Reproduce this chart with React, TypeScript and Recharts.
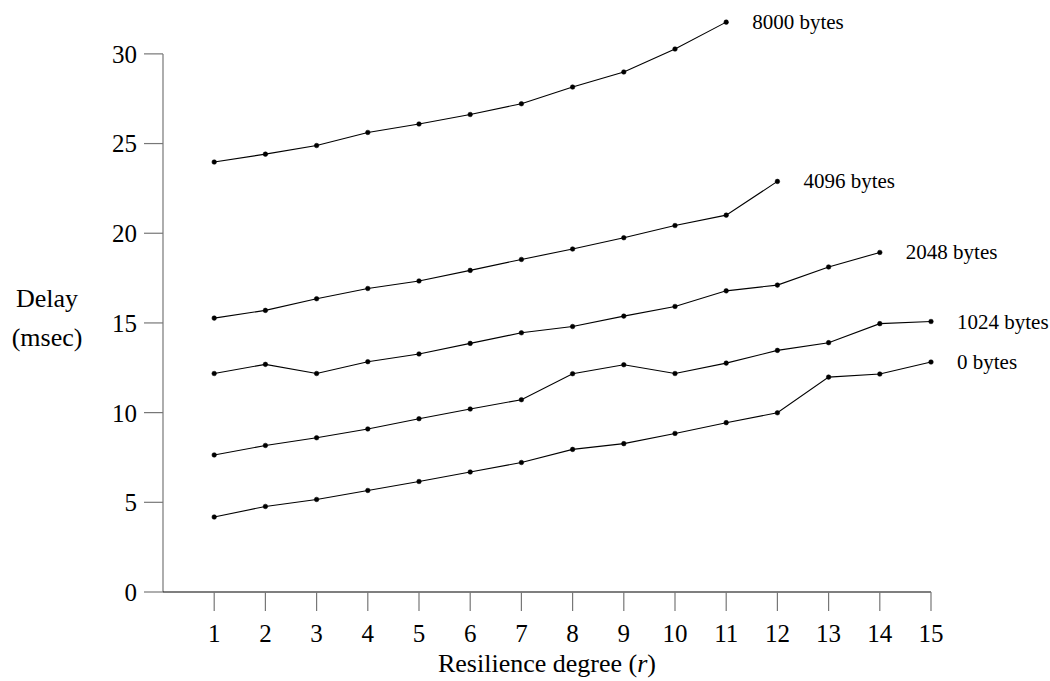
import React from 'react';
import { LineChart, Line, XAxis, YAxis, ReferenceLine, LabelList } from 'recharts';

const resilience = [1, 2, 3, 4, 5, 6, 7, 8, 9, 10, 11, 12, 13, 14, 15];
const bytes0 = [4.18, 4.77, 5.16, 5.66, 6.16, 6.69, 7.22, 7.95, 8.27, 8.84, 9.44, 9.99, 11.98, 12.15, 12.82];
const bytes1024 = [7.64, 8.17, 8.6, 9.09, 9.66, 10.2, 10.72, 12.17, 12.67, 12.18, 12.76, 13.47, 13.9, 14.96, 15.08];
const bytes2048 = [12.18, 12.69, 12.18, 12.84, 13.27, 13.86, 14.45, 14.8, 15.38, 15.92, 16.79, 17.11, 18.12, 18.93];
const bytes4096 = [15.27, 15.7, 16.35, 16.92, 17.34, 17.93, 18.54, 19.12, 19.75, 20.43, 21.01, 22.89];
const bytes8000 = [23.97, 24.41, 24.89, 25.62, 26.09, 26.62, 27.22, 28.15, 28.99, 30.27, 31.77];
const yTicks = [0, 5, 10, 15, 20, 25, 30];

const series = [
  { key: 'b0', name: '0 bytes', values: bytes0 },
  { key: 'b1024', name: '1024 bytes', values: bytes1024 },
  { key: 'b2048', name: '2048 bytes', values: bytes2048 },
  { key: 'b4096', name: '4096 bytes', values: bytes4096 },
  { key: 'b8000', name: '8000 bytes', values: bytes8000 },
];

const data = resilience.map((r, i) => {
  const row: any = { r };
  series.forEach(s => {
    row[s.key] = i < s.values.length ? s.values[i] : null;
  });
  return row;
});

const font = '"Liberation Serif", "Times New Roman", serif';

// name shown only next to the last point of each curve
const endLabel = (name: string, last: number) => (props: any) => {
  const { x, y, index } = props;
  if (index !== last || x == null || y == null) return null;
  return (
    <text x={x + 26} y={y} dominantBaseline="central" textAnchor="start"
      fontFamily={font} fontSize={21} fill="#000">
      {name}
    </text>
  );
};

const XTitle = ({ viewBox }: any) => (
  <text x={viewBox.x + viewBox.width / 2} y={672} textAnchor="middle"
    fontFamily={font} fontSize={26} fill="#000">
    Resilience degree (<tspan fontStyle="italic">r</tspan>)
  </text>
);

const YTitle = () => (
  <g>
    <text x={47} y={307} textAnchor="middle" fontFamily={font} fontSize={26} fill="#000">Delay</text>
    <text x={47} y={346} textAnchor="middle" fontFamily={font} fontSize={26} fill="#000">(msec)</text>
  </g>
);

export default function App() {
  const tickStyle = { fontFamily: font, fontSize: 25, fill: '#000' };
  return (
    <div style={{ position: 'absolute', left: 0, top: 0, background: '#fff' }}>
      <LineChart width={1050} height={681} data={data} margin={{ top: 18, right: 119, bottom: 0, left: 0 }}>
        <XAxis
          dataKey="r"
          type="number"
          domain={[0, 15]}
          ticks={resilience}
          interval={0}
          height={89}
          tickSize={19}
          tickMargin={13}
          axisLine={{ stroke: '#000', strokeWidth: 1.2 }}
          tickLine={{ stroke: '#777', strokeWidth: 1.2 }}
          tick={tickStyle}
          label={<XTitle />}
        />
        <YAxis
          type="number"
          domain={[0, 32]}
          ticks={yTicks}
          interval={0}
          width={163}
          tickSize={19}
          tickMargin={7}
          axisLine={false}
          tickLine={{ stroke: '#777', strokeWidth: 1.2 }}
          tick={tickStyle}
          label={<YTitle />}
        />
        <ReferenceLine segment={[{ x: 0, y: 0 }, { x: 0, y: 30 }]} stroke="#777" strokeWidth={1.2} />
        {series.map(s => (
          <Line
            key={s.key}
            dataKey={s.key}
            type="linear"
            stroke="#000"
            strokeWidth={1.1}
            dot={{ r: 2.3, fill: '#000', stroke: '#000', strokeWidth: 0.5 }}
            activeDot={false}
            isAnimationActive={false}
          >
            <LabelList dataKey={s.key} content={endLabel(s.name, s.values.length - 1)} />
          </Line>
        ))}
      </LineChart>
    </div>
  );
}
